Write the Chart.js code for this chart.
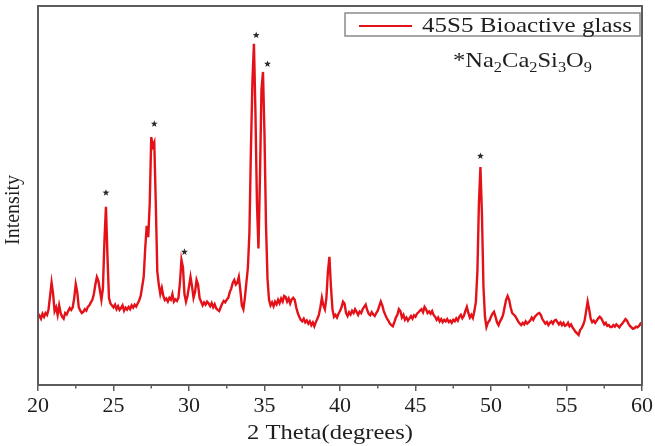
<!DOCTYPE html>
<html>
<head>
<meta charset="utf-8">
<script src="https://cdn.jsdelivr.net/npm/chart.js@4.4.1/dist/chart.umd.min.js"></script>
<style>
  html, body { margin: 0; padding: 0; background: #fff; }
  #wrap { width: 655px; height: 446px; }
</style>
</head>
<body>
<div id="wrap"><canvas id="xrd"></canvas></div>
<script>
// 2 theta scan, 20..60 degrees, one reading every 0.1 degree (one row per degree)
const scanStart = 20;
const scanStep = 0.1;
const intensity = [
  17.7, 18.3, 17.5, 18.8, 18.0, 19.0, 18.5, 20.0, 23.5, 27.0, // 20
  24.0, 19.5, 20.5, 18.5, 21.0, 19.0, 18.0, 17.5, 19.0, 18.6, // 21
  19.5, 20.3, 19.8, 20.5, 23.0, 26.6, 24.5, 20.5, 19.6, 19.0, // 22
  19.3, 20.0, 19.6, 20.6, 21.0, 21.8, 22.5, 24.0, 26.5, 28.5, // 23
  27.5, 25.0, 22.5, 25.5, 38.0, 47.0, 34.0, 23.0, 21.5, 21.0, // 24
  20.5, 21.2, 20.0, 20.8, 19.8, 20.3, 21.0, 19.6, 20.4, 19.9, // 25
  20.6, 20.0, 21.0, 20.4, 21.2, 20.7, 21.5, 22.3, 23.5, 26.0, // 26
  28.5, 36.0, 42.0, 39.0, 48.0, 65.4, 63.0, 64.0, 48.0, 30.0, // 27
  26.5, 24.0, 25.6, 23.5, 22.4, 22.8, 22.0, 23.0, 22.5, 24.0, // 28
  22.0, 22.6, 22.2, 23.0, 27.0, 33.0, 31.0, 24.0, 22.0, 23.5, // 29
  26.0, 28.5, 26.0, 23.0, 24.5, 27.7, 26.5, 23.0, 22.0, 21.0, // 30
  21.8, 21.2, 22.0, 21.5, 20.8, 21.6, 20.5, 21.3, 20.2, 19.8, // 31
  19.5, 20.5, 21.5, 22.2, 21.8, 22.5, 23.0, 24.5, 25.5, 27.0, // 32
  27.7, 26.5, 27.0, 28.5, 25.0, 21.0, 20.0, 23.0, 27.0, 31.0, // 33
  40.0, 62.0, 80.0, 90.0, 72.0, 48.0, 36.0, 55.0, 78.0, 82.6, // 34
  66.0, 42.0, 28.0, 22.5, 21.0, 21.8, 20.8, 22.0, 21.3, 22.5, // 35
  21.6, 22.8, 22.0, 23.5, 23.2, 22.0, 22.8, 21.5, 22.6, 23.0, // 36
  22.5, 20.5, 19.0, 18.0, 17.2, 16.8, 17.5, 16.5, 17.0, 16.2, // 37
  16.8, 15.8, 16.5, 15.5, 16.6, 17.5, 18.5, 20.5, 23.0, 21.0, // 38
  20.0, 23.0, 30.0, 33.8, 26.0, 20.0, 18.0, 18.5, 17.8, 18.8, // 39
  19.5, 20.5, 22.0, 21.5, 19.0, 18.2, 19.2, 18.6, 19.6, 19.0, // 40
  20.0, 19.3, 18.5, 19.4, 19.0, 20.0, 20.6, 21.2, 19.8, 18.8, // 41
  18.4, 19.2, 18.6, 18.2, 19.0, 19.6, 20.8, 22.0, 21.0, 19.5, // 42
  18.5, 17.6, 17.0, 16.2, 15.8, 15.5, 16.6, 17.8, 18.5, 20.0, // 43
  19.5, 17.8, 18.5, 17.2, 17.8, 17.0, 17.6, 18.2, 17.5, 18.4, // 44
  18.0, 18.8, 19.2, 19.6, 20.0, 19.2, 20.6, 20.0, 19.0, 19.4, // 45
  18.8, 19.5, 18.5, 18.0, 17.2, 17.8, 16.8, 17.4, 16.6, 17.2, // 46
  16.8, 17.4, 16.6, 17.0, 16.4, 17.2, 16.8, 17.6, 17.0, 18.0, // 47
  18.5, 17.6, 18.2, 19.5, 20.6, 19.0, 17.8, 18.5, 17.7, 19.5, // 48
  22.0, 30.0, 48.0, 57.5, 45.0, 26.0, 18.0, 15.3, 16.5, 17.0, // 49
  18.0, 18.8, 19.3, 18.0, 16.5, 15.8, 16.8, 17.5, 18.5, 20.5, // 50
  22.5, 23.5, 22.5, 20.5, 19.0, 18.6, 18.2, 17.5, 16.8, 16.2, // 51
  15.8, 16.4, 16.0, 16.8, 16.2, 16.6, 17.0, 17.8, 17.2, 18.0, // 52
  18.4, 18.8, 19.0, 18.5, 17.4, 16.8, 16.2, 16.6, 15.8, 16.4, // 53
  16.8, 16.2, 17.0, 17.2, 16.6, 16.0, 16.5, 15.8, 16.4, 15.6, // 54
  15.8, 16.4, 15.5, 16.0, 15.2, 14.6, 14.0, 13.6, 13.2, 14.5, // 55
  15.0, 15.8, 17.0, 19.5, 22.0, 20.0, 17.5, 16.6, 17.0, 16.4, // 56
  17.0, 17.6, 18.0, 17.6, 16.8, 16.0, 16.4, 15.6, 15.8, 15.3, // 57
  15.3, 15.8, 15.4, 16.0, 15.6, 15.2, 15.8, 16.2, 16.8, 17.4, // 58
  17.0, 16.2, 15.6, 15.2, 14.8, 15.0, 15.4, 15.2, 15.6, 16.2, // 59
  15.8                                                         // 60
];

// peaks marked with a star (Na2Ca2Si3O9)
const starAngles = [24.5, 27.7, 29.7, 34.45, 35.2, 49.3];
const starLevels = [50.7, 68.9, 35.1, 92.3, 84.7, 60.4];

const xTicks = [20, 25, 30, 35, 40, 45, 50, 55, 60];
const minorTicks = [22.5, 27.5, 32.5, 37.5, 42.5, 47.5, 52.5, 57.5];

const lineRed = 'rgb(228, 18, 24)';
const frameGrey = '#5c5c5c';
const textColor = '#1e1e1e';
const serif = "'Liberation Serif', 'Times New Roman', serif";

const points = intensity.map((v, i) => ({ x: +(scanStart + i * scanStep).toFixed(1), y: v }));

// text drawn wider than the font, like the stretched original figure
function stretchText(ctx, text, x, y, targetWidth) {
  const w = ctx.measureText(text).width;
  ctx.save();
  ctx.translate(x, y);
  ctx.scale(targetWidth / w, 1);
  ctx.fillText(text, 0, 0);
  ctx.restore();
}

function fillStar(ctx, cx, cy, r) {
  ctx.beginPath();
  for (let k = 0; k < 10; k++) {
    const rr = k % 2 ? r * 0.42 : r;
    const ang = -Math.PI / 2 + k * Math.PI / 5;
    const px = cx + rr * Math.cos(ang), py = cy + rr * Math.sin(ang);
    if (k === 0) ctx.moveTo(px, py); else ctx.lineTo(px, py);
  }
  ctx.closePath();
  ctx.fill();
}

const decorations = {
  id: 'decorations',
  afterDraw(chart) {
    const { ctx, chartArea: a, scales } = chart;
    const xs = scales.x, ys = scales.y;
    ctx.save();

    // frame around the plot
    ctx.strokeStyle = frameGrey;
    ctx.lineWidth = 2;
    ctx.strokeRect(a.left, a.top, a.right - a.left, a.bottom - a.top);

    // minor ticks
    ctx.lineWidth = 1.5;
    minorTicks.forEach(t => {
      const px = xs.getPixelForValue(t);
      ctx.beginPath();
      ctx.moveTo(px, a.bottom);
      ctx.lineTo(px, a.bottom + 3.5);
      ctx.stroke();
    });

    // stars over the phase peaks
    ctx.fillStyle = '#2a2a2a';
    starAngles.forEach((t, i) => {
      fillStar(ctx, xs.getPixelForValue(t), ys.getPixelForValue(starLevels[i]), 3.6);
    });

    // legend box
    const lx = 345, ly = 13, lw = 295, lh = 23;
    ctx.fillStyle = '#fff';
    ctx.fillRect(lx, ly, lw, lh);
    ctx.strokeStyle = '#8a8a8a';
    ctx.lineWidth = 1.5;
    ctx.strokeRect(lx, ly, lw, lh);
    ctx.strokeStyle = lineRed;
    ctx.lineWidth = 2;
    ctx.beginPath();
    ctx.moveTo(359, 26);
    ctx.lineTo(412, 26);
    ctx.stroke();
    ctx.fillStyle = textColor;
    ctx.textAlign = 'left';
    ctx.textBaseline = 'alphabetic';
    ctx.font = '21px ' + serif;
    stretchText(ctx, chart.data.datasets[0].label, 422, 32, 210);

    // phase formula with subscripts
    const parts = [['*Na', 0], ['2', 1], ['Ca', 0], ['2', 1], ['Si', 0], ['3', 1], ['O', 0], ['9', 1]];
    let fx = 453;
    let natural = 0;
    parts.forEach(([s, sub]) => {
      ctx.font = (sub ? '14px ' : '21px ') + serif;
      natural += ctx.measureText(s).width;
    });
    const sx = 139 / natural;
    parts.forEach(([s, sub]) => {
      ctx.font = (sub ? '14px ' : '21px ') + serif;
      const w = ctx.measureText(s).width * sx;
      stretchText(ctx, s, fx, sub ? 72 : 67, w);
      fx += w;
    });

    // axis titles
    ctx.font = '22px ' + serif;
    ctx.textAlign = 'left';
    stretchText(ctx, '2 Theta(degrees)', 247, 439, 166);

    ctx.save();
    ctx.translate(19, 210);
    ctx.rotate(-Math.PI / 2);
    ctx.font = '20px ' + serif;
    ctx.textAlign = 'center';
    ctx.fillText('Intensity', 0, 0);
    ctx.restore();

    ctx.restore();
  }
};

new Chart(document.getElementById('xrd'), {
  type: 'line',
  data: {
    datasets: [{
      label: '45S5 Bioactive glass',
      data: points,
      borderColor: lineRed,
      borderWidth: 2.4,
      pointRadius: 0,
      tension: 0,
      fill: false
    }]
  },
  options: {
    responsive: true,
    maintainAspectRatio: false,
    animation: false,
    layout: { padding: { top: 6, right: 9, left: 0, bottom: 0 } },
    plugins: {
      legend: { display: false },
      tooltip: { enabled: false }
    },
    scales: {
      x: {
        type: 'linear',
        min: 20,
        max: 60,
        afterBuildTicks: axis => { axis.ticks = xTicks.map(v => ({ value: v })); },
        afterFit: axis => { axis.height = 61; },
        ticks: {
          color: textColor,
          padding: 2,
          maxRotation: 0,
          font: { family: serif, size: 22 }
        },
        grid: {
          drawOnChartArea: false,
          drawTicks: true,
          tickLength: 6,
          color: frameGrey,
          lineWidth: 1.5
        },
        border: { display: false }
      },
      y: {
        min: 0,
        max: 100,
        afterFit: axis => { axis.width = 38; },
        ticks: { display: false },
        grid: { display: false },
        border: { display: false }
      }
    }
  },
  plugins: [decorations]
});
</script>
</body>
</html>
